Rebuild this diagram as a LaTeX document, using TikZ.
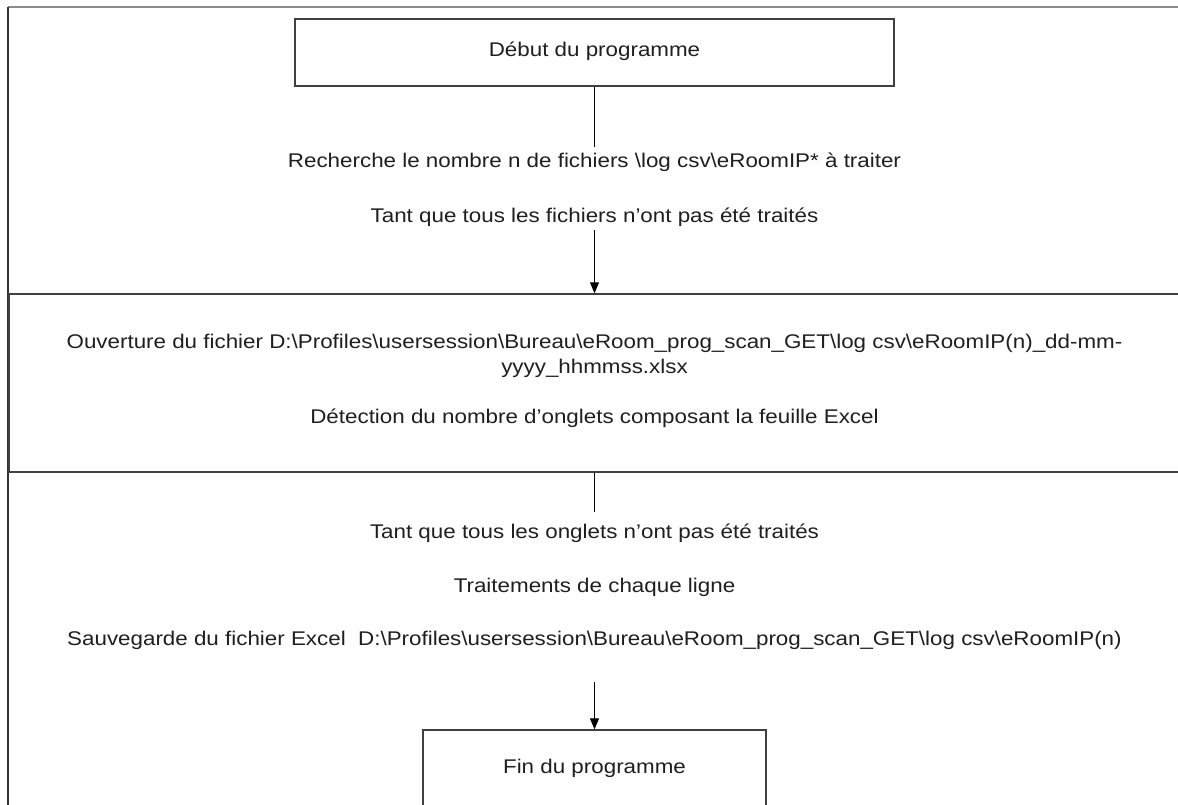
\documentclass[tikz,border=0pt]{standalone}
\usepackage{fontspec}
\setmainfont{Liberation Sans}[FakeStretch=1.13]
\usetikzlibrary{arrows.meta}
\tikzset{
  box/.style={draw=black!75, line width=1.4pt, rectangle, inner sep=0pt},
  txt/.style={inner sep=0pt, text=black!88, font=\fontsize{19.8}{25}\selectfont, align=center},
  conn/.style={draw=black, line width=0.9pt},
  arr/.style={conn, -{Triangle[length=11pt,width=9pt]}},
}
\begin{document}
\begin{tikzpicture}[x=1pt,y=-1pt]
\useasboundingbox (0,0) rectangle (1178,805);
\clip (0,0) rectangle (1178,805);
\fill[white] (0,0) rectangle (1178,805);
% outer frame
\draw[black!45, line width=1.8pt] (8,7) -- (1190,7);
\draw[black!80, line width=1.2pt] (8,7) -- (8,820);
% boxes
\node[box, minimum width=599pt, minimum height=67pt] (start) at (594.5,52.5) {};
\node[txt] (tstart) at (594.5,51) {Début du programme};
\node[box, minimum width=1181pt, minimum height=178pt] (open) at (599.5,383) {};
\node[box, minimum width=343pt, minimum height=80pt] (fin) at (594.5,770) {};
\node[txt] (tfin) at (594.5,768) {Fin du programme};
% texts
\node[txt] (t1) at (594.5,162) {Recherche le nombre n de fichiers \textbackslash log csv\textbackslash eRoomIP* à traiter};
\node[txt] (t2) at (594.5,217) {Tant que tous les fichiers n’ont pas été traités};
\node[txt] (o1) at (594.5,355.5) {Ouverture du fichier D:\textbackslash Profiles\textbackslash usersession\textbackslash Bureau\textbackslash eRoom\_prog\_scan\_GET\textbackslash log csv\textbackslash eRoomIP(n)\_dd-mm-\\yyyy\_hhmmss.xlsx};
\node[txt] (o2) at (594.5,418) {Détection du nombre d’onglets composant la feuille Excel};
\node[txt] (t3) at (594.5,533) {Tant que tous les onglets n’ont pas été traités};
\node[txt] (t4) at (594.5,587) {Traitements de chaque ligne};
\node[txt] (t5) at (594.5,640) {Sauvegarde du fichier Excel\ \ D:\textbackslash Profiles\textbackslash usersession\textbackslash Bureau\textbackslash eRoom\_prog\_scan\_GET\textbackslash log csv\textbackslash eRoomIP(n)};
% free ends
\coordinate (c1) at (594.5,147);
\coordinate (c2) at (594.5,230);
\coordinate (c3) at (594.5,512);
\coordinate (c4) at (594.5,682);
% connectors
\draw[conn] (start.south) -- (c1);
\draw[arr] (c2) -- (c2 |- open.north);
\draw[conn] (c3 |- open.south) -- (c3);
\draw[arr] (c4) -- (fin.north);
\end{tikzpicture}
\end{document}
